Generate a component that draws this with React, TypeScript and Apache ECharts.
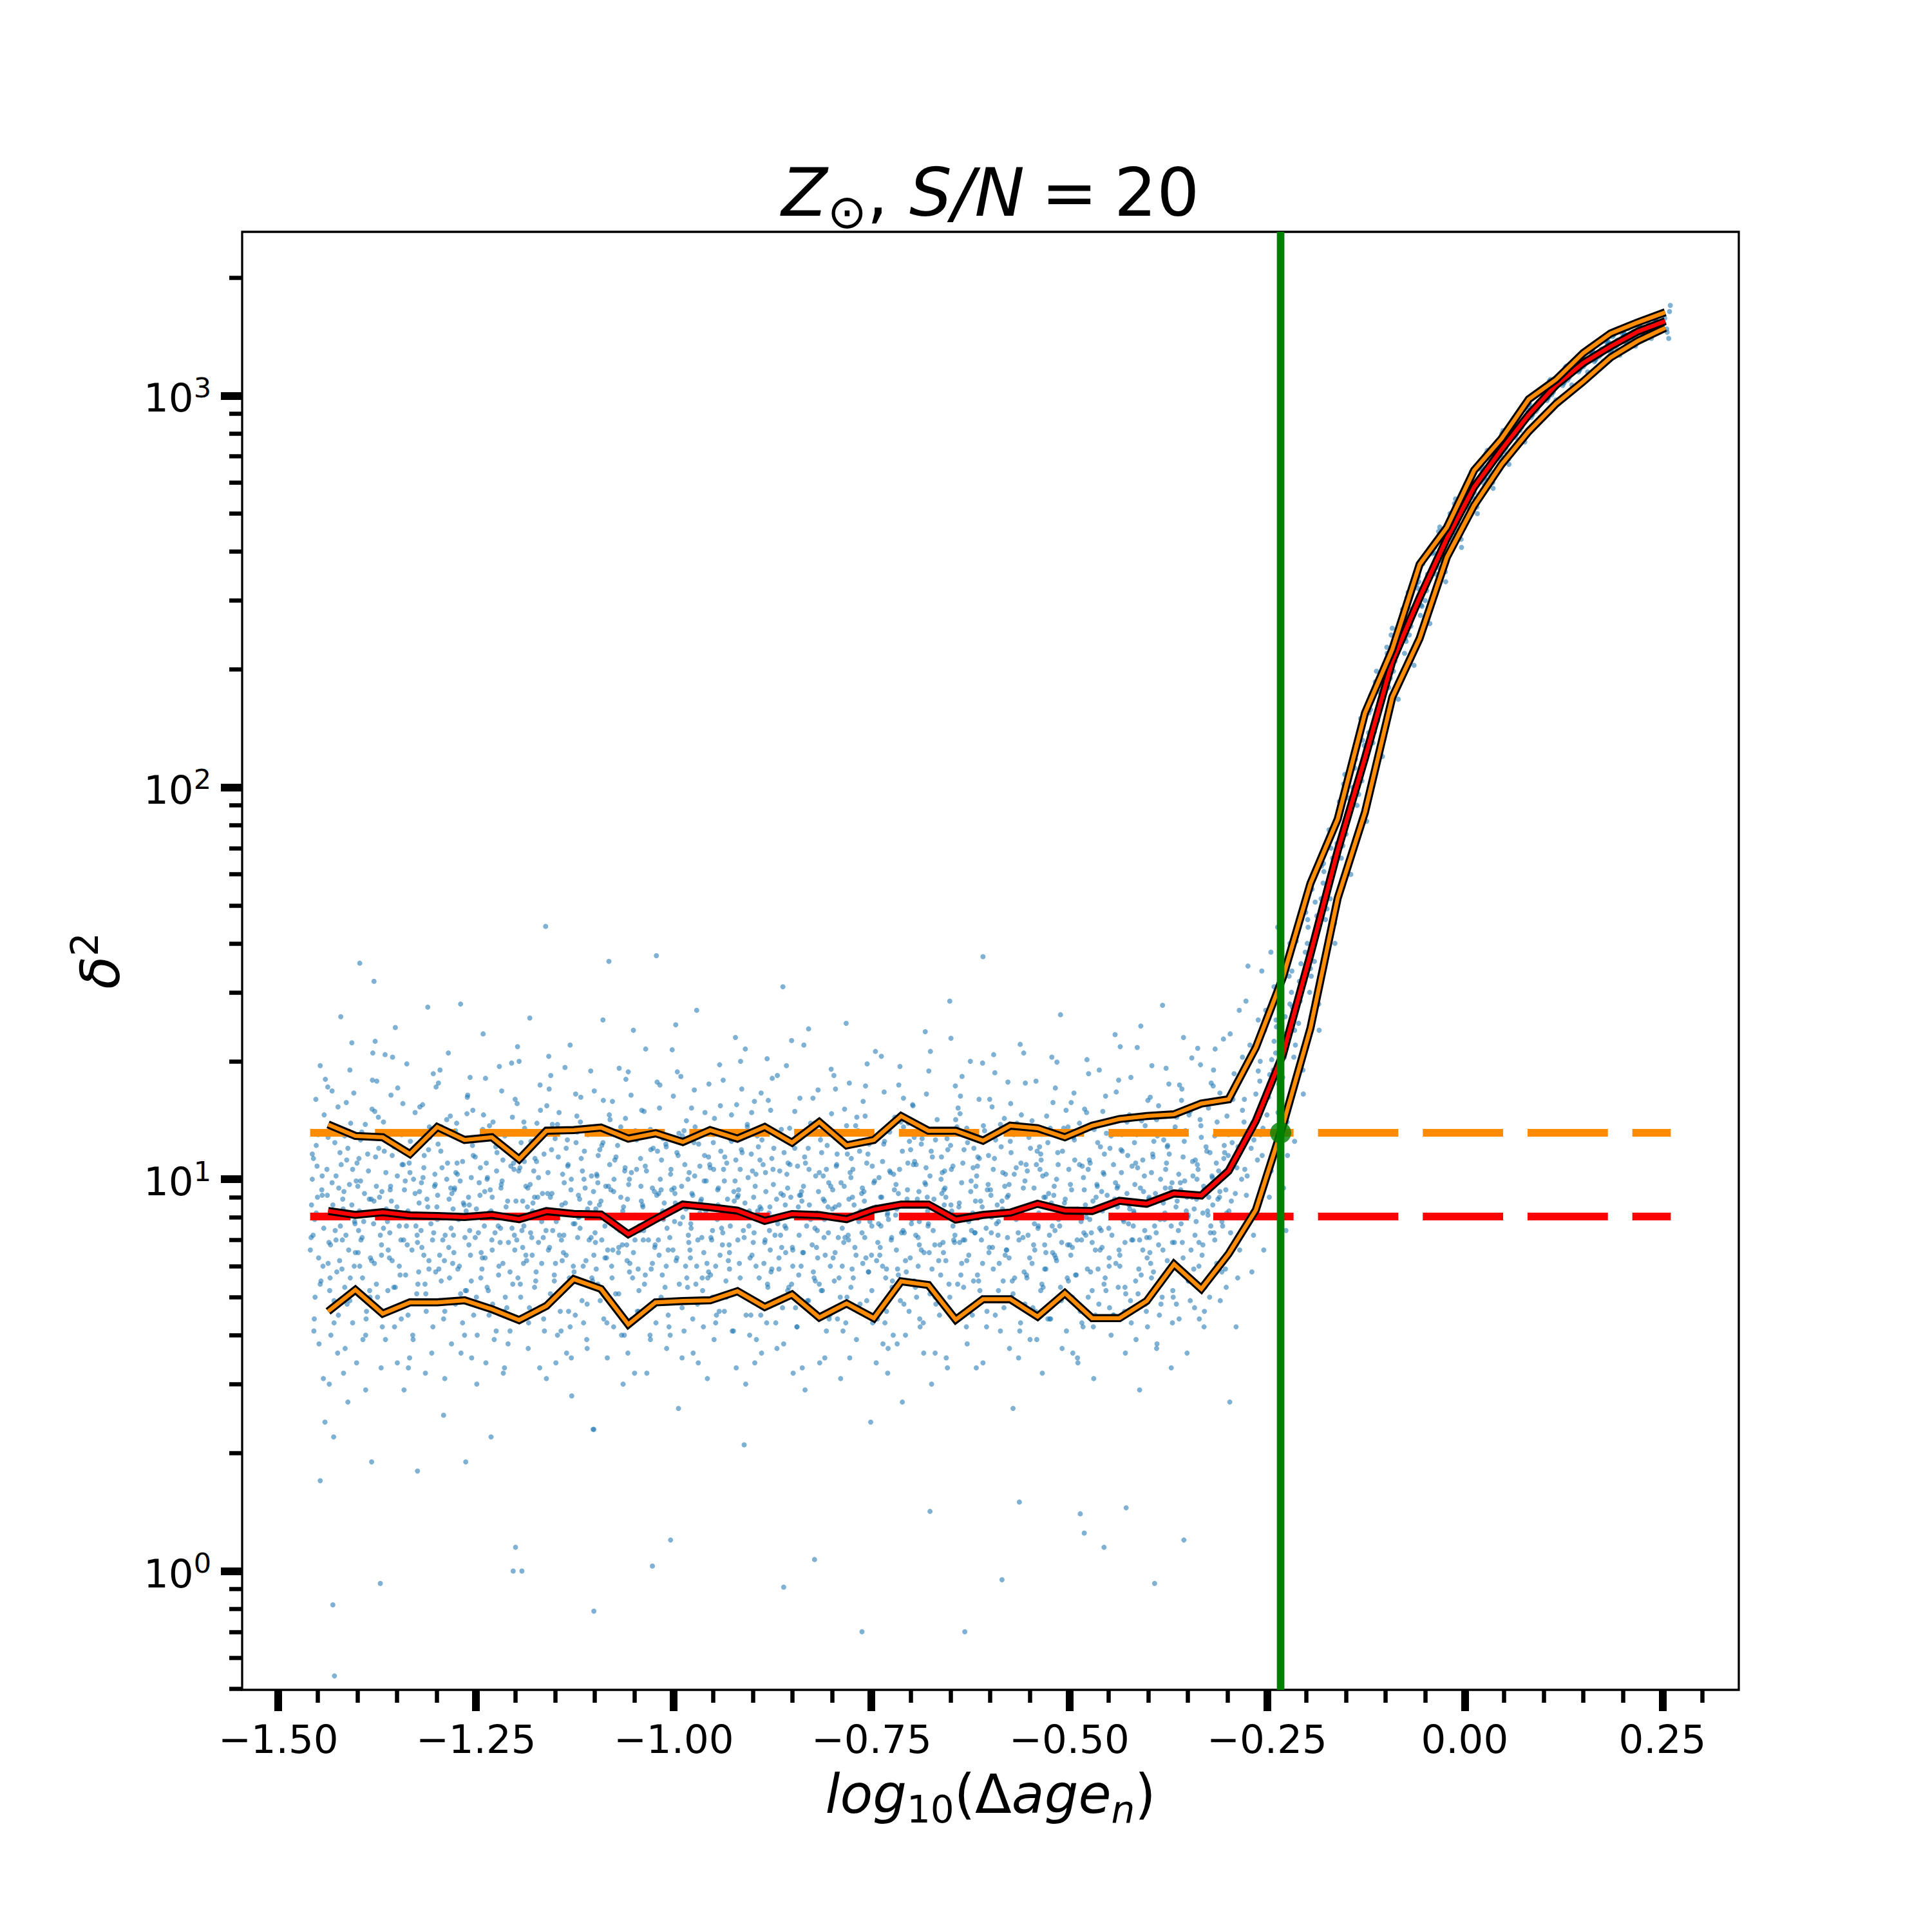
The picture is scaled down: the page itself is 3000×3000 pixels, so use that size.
import React, { useEffect, useRef } from 'react';
import * as echarts from 'echarts';

// ---------- axes ----------
const X_MIN = -1.5457;
const X_MAX = 0.3466;
const Y_MIN = 0.4975;
const Y_MAX = 2619;
const X_MAJOR = [-1.5, -1.25, -1.0, -0.75, -0.5, -0.25, 0.0, 0.25];
const X_MINOR = [-1.45, -1.4, -1.35, -1.3, -1.2, -1.15, -1.1, -1.05, -0.95, -0.9, -0.85, -0.8, -0.7, -0.65, -0.6, -0.55, -0.45, -0.4, -0.35, -0.3, -0.2, -0.15, -0.1, -0.05, 0.05, 0.1, 0.15, 0.2, 0.3];
const Y_MAJOR = [1, 10, 100, 1000];
const Y_MINOR = [0.5, 0.6, 0.7, 0.8, 0.9, 2, 3, 4, 5, 6, 7, 8, 9, 20, 30, 40, 50, 60, 70, 80, 90, 200, 300, 400, 500, 600, 700, 800, 900, 2000];

// ---------- binned statistics ----------
const BIN_X = [-1.437, -1.4025, -1.368, -1.3335, -1.299, -1.2645, -1.23, -1.1955, -1.161, -1.1265, -1.092, -1.0575, -1.023, -0.9885, -0.954, -0.9195, -0.885, -0.8505, -0.816, -0.7815, -0.747, -0.7125, -0.678, -0.6435, -0.609, -0.5745, -0.54, -0.5055, -0.471, -0.4365, -0.402, -0.3675, -0.333, -0.2985, -0.264, -0.2295, -0.195, -0.1605, -0.126, -0.0915, -0.057, -0.0225, 0.012, 0.0465, 0.081, 0.1155, 0.15, 0.1845, 0.219, 0.2535];
const MEDIAN = [8.3, 8.11, 8.24, 8.09, 8.06, 8.01, 8.11, 7.91, 8.29, 8.16, 8.13, 7.24, 7.91, 8.62, 8.48, 8.32, 7.83, 8.15, 8.1, 7.91, 8.37, 8.62, 8.62, 7.89, 8.11, 8.22, 8.66, 8.32, 8.3, 8.81, 8.66, 9.2, 9.09, 10.5, 14.1, 20.9, 37.5, 69, 119, 210, 305, 432, 585, 728, 894, 1064, 1212, 1336, 1458, 1549];
const P_UPPER = [13.8, 12.9, 12.8, 11.6, 13.6, 12.6, 12.8, 11.25, 13.3, 13.35, 13.55, 12.7, 13.1, 12.45, 13.35, 12.7, 13.6, 12.4, 14.0, 12.2, 12.6, 14.5, 13.3, 13.3, 12.55, 13.7, 13.5, 12.8, 13.7, 14.25, 14.5, 14.65, 15.6, 16.0, 21.7, 32.9, 56.9, 83.1, 155, 225, 371, 461, 645, 776, 979, 1099, 1285, 1442, 1539, 1632];
const P_LOWER = [4.6, 5.22, 4.54, 4.85, 4.85, 4.91, 4.66, 4.37, 4.75, 5.56, 5.25, 4.26, 4.85, 4.89, 4.91, 5.18, 4.72, 5.08, 4.44, 4.82, 4.42, 5.49, 5.37, 4.38, 4.94, 4.94, 4.46, 5.12, 4.42, 4.42, 4.89, 6.07, 5.25, 6.45, 8.35, 13.8, 24.3, 52.2, 86.5, 170, 240, 387, 525, 667, 811, 954, 1087, 1252, 1380, 1489];

// reference levels
const MEDIAN_REF = 8.03;
const UPPER_REF = 13.14;
const REF_X_START = -1.4597;
const REF_X_END = 0.2606;
const THRESHOLD_X = -0.2327;

// ---------- scatter ----------
const SCATTER_FLAT_A: number[][] = [
  [-1.458,8.6],[-1.455,4.1],[-1.452,12.2],[-1.449,6.3],[-1.447,19.5],[-1.445,9.4],[-1.443,3.1],[-1.456,7.2],[-1.451,10.8],[-1.446,5.5],[-1.442,14.6],[-1.454,7.9],[-1.441,2.4],
  [-1.438,9.1],[-1.435,5.2],[-1.432,16.8],[-1.428,7.4],[-1.425,3.6],[-1.422,11.7],[-1.437,6.1],[-1.433,13.4],[-1.429,8.0],[-1.424,4.5],[-1.421,26.0],[-1.427,10.2],[-1.434,6.8],
  [-1.419,7.0],[-1.416,12.9],[-1.413,4.8],[-1.41,9.7],[-1.407,22.3],[-1.404,6.0],[-1.401,3.4],[-1.418,8.4],[-1.414,15.7],[-1.409,5.6],[-1.406,10.6],[-1.403,7.7],[-1.412,2.7],
  [-1.399,6.5],[-1.396,9.9],[-1.393,3.9],[-1.39,13.8],[-1.387,8.2],[-1.384,5.0],[-1.381,17.9],[-1.398,11.3],[-1.394,7.1],[-1.389,4.4],[-1.385,8.9],[-1.382,6.2],[-1.397,35.6],
  [-1.379,8.8],[-1.376,5.4],[-1.373,12.0],[-1.37,3.3],[-1.367,7.5],[-1.364,10.4],[-1.361,6.6],[-1.378,14.9],[-1.374,4.7],[-1.369,9.3],[-1.365,20.8],[-1.362,7.8],[-1.379,32.0],
  [-1.359,7.3],[-1.356,11.5],[-1.353,4.2],[-1.35,8.5],[-1.347,6.0],[-1.344,13.0],[-1.341,2.9],[-1.358,9.6],[-1.354,5.3],[-1.349,17.1],[-1.345,7.0],[-1.342,10.9],[-1.352,24.4],
  [-1.339,5.7],[-1.336,8.3],[-1.333,12.5],[-1.33,4.0],[-1.327,9.2],[-1.324,6.9],[-1.321,15.3],[-1.338,7.6],[-1.334,3.5],[-1.329,10.0],[-1.325,5.1],[-1.322,8.7],
  [-1.319,9.8],[-1.316,6.4],[-1.313,4.6],[-1.31,11.9],[-1.307,7.7],[-1.304,18.6],[-1.301,5.8],[-1.318,8.1],[-1.314,3.2],[-1.309,13.6],[-1.305,7.0],[-1.302,10.3],[-1.311,27.5],
  [-1.299,7.9],[-1.296,4.9],[-1.293,10.7],[-1.29,6.2],[-1.287,14.2],[-1.284,8.9],[-1.281,3.8],[-1.298,12.3],[-1.294,5.5],[-1.289,7.2],[-1.285,21.0],[-1.282,9.5],[-1.291,2.5],
  [-1.279,8.4],[-1.276,13.3],[-1.273,5.9],[-1.27,9.9],[-1.267,4.3],[-1.264,7.1],[-1.261,16.2],[-1.278,6.5],[-1.274,11.0],[-1.269,3.6],[-1.265,8.6],[-1.262,5.2],
  [-1.259,6.8],[-1.256,10.1],[-1.253,4.5],[-1.25,8.0],[-1.247,12.8],[-1.244,5.6],[-1.241,23.5],[-1.258,7.4],[-1.254,15.0],[-1.249,3.0],[-1.245,9.1],[-1.242,6.3],[-1.251,11.4],
  [-1.239,9.3],[-1.236,5.3],[-1.233,13.7],[-1.23,7.0],[-1.227,3.9],[-1.224,10.5],[-1.221,6.0],[-1.238,18.1],[-1.234,8.2],[-1.229,4.8],[-1.225,12.1],[-1.222,7.6],[-1.231,2.2],
  [-1.219,7.5],[-1.216,11.2],[-1.213,5.0],[-1.21,8.8],[-1.207,4.1],[-1.204,14.4],[-1.201,6.6],[-1.218,9.7],[-1.214,3.3],[-1.209,6.9],[-1.205,19.8],[-1.202,10.6],
  [-1.199,8.1],[-1.196,4.4],[-1.193,12.4],[-1.19,6.1],[-1.187,9.6],[-1.184,3.7],[-1.181,7.3],[-1.198,15.6],[-1.194,5.4],[-1.189,11.1],[-1.185,8.5],[-1.182,25.8],[-1.191,6.7],
  [-1.179,6.4],[-1.176,9.0],[-1.173,13.9],[-1.17,4.7],[-1.167,7.8],[-1.164,11.6],[-1.161,3.1],[-1.178,8.7],[-1.174,5.8],[-1.169,17.4],[-1.165,7.1],[-1.162,44.2],[-1.171,10.1],
  [-1.159,10.4],[-1.156,5.1],[-1.153,7.4],[-1.15,12.7],[-1.147,4.0],[-1.144,8.3],[-1.141,6.2],[-1.158,20.6],[-1.154,9.2],[-1.149,3.4],[-1.145,14.8],[-1.142,7.0],[-1.151,5.7],
  [-1.139,7.2],[-1.136,12.0],[-1.133,4.6],[-1.13,9.4],[-1.127,6.0],[-1.124,16.5],[-1.121,8.0],[-1.138,5.3],[-1.134,10.8],[-1.129,2.8],[-1.125,7.7],[-1.122,13.2],[-1.131,22.0],
  [-1.119,8.9],[-1.116,5.5],[-1.113,11.8],[-1.11,3.9],[-1.107,7.0],[-1.104,10.2],[-1.101,6.4],[-1.118,14.0],[-1.114,4.3],[-1.109,8.4],[-1.105,18.9],[-1.102,2.3],
  [-1.099,6.9],[-1.096,9.8],[-1.093,4.9],[-1.09,13.5],[-1.087,7.6],[-1.084,3.5],[-1.081,10.9],[-1.098,5.9],[-1.094,8.6],[-1.089,15.9],[-1.085,6.3],[-1.082,36.0],[-1.091,12.2],
  [-1.079,7.7],[-1.076,4.2],[-1.073,11.4],[-1.07,6.5],[-1.067,9.0],[-1.064,3.0],[-1.061,14.3],[-1.078,5.6],[-1.074,8.1],[-1.069,19.2],[-1.065,6.8],[-1.062,10.5],[-1.071,4.7],
  [-1.059,6.2],[-1.056,10.0],[-1.053,4.4],[-1.05,7.3],[-1.047,12.6],[-1.044,5.2],[-1.041,8.8],[-1.058,3.6],[-1.054,16.4],[-1.049,7.0],[-1.045,5.9],[-1.042,11.3],[-1.051,24.0],
  [-1.039,8.5],[-1.036,5.7],[-1.033,13.1],[-1.03,4.0],[-1.027,9.5],[-1.024,6.7],[-1.021,17.7],[-1.038,7.4],[-1.034,3.2],[-1.029,11.9],[-1.025,8.0],[-1.022,37.2],
  [-1.019,9.2],[-1.016,5.0],[-1.013,7.9],[-1.01,12.3],[-1.007,4.5],[-1.004,10.3],[-1.001,6.6],[-1.018,15.2],[-1.014,8.3],[-1.009,3.7],[-1.005,7.1],[-1.002,21.4],
  [-0.999,7.8],[-0.996,11.7],[-0.993,5.4],[-0.99,9.6],[-0.987,4.1],[-0.984,14.1],[-0.981,6.9],[-0.998,8.7],[-0.994,2.6],[-0.989,12.9],[-0.985,6.0],[-0.982,10.0],[-0.991,18.3],
  [-0.979,6.3],[-0.976,9.1],[-0.973,13.6],[-0.97,4.8],[-0.967,8.2],[-0.964,5.6],[-0.961,11.5],[-0.978,7.5],[-0.974,16.9],[-0.969,3.4],[-0.965,8.9],[-0.962,6.5],[-0.971,27.0],
  [-0.959,9.9],[-0.956,5.8],[-0.953,7.1],[-0.95,12.4],[-0.947,4.3],[-0.944,8.6],[-0.941,15.4],[-0.958,6.1],[-0.954,10.7],[-0.949,3.9],[-0.945,7.9],[-0.942,19.6],[-0.951,5.0],
  [-0.939,8.0],[-0.936,4.6],[-0.933,11.0],[-0.93,6.8],[-0.927,14.6],[-0.924,9.3],[-0.921,3.3],[-0.938,7.3],[-0.934,5.5],[-0.929,12.7],[-0.925,8.4],[-0.922,23.0],[-0.931,6.2],
  [-0.919,7.0],[-0.916,10.6],[-0.913,5.1],[-0.91,8.7],[-0.907,13.8],[-0.904,4.0],[-0.901,6.4],[-0.918,9.4],[-0.914,17.0],[-0.909,3.0],[-0.905,7.6],[-0.902,11.6],[-0.911,2.1],
  [-0.899,9.0],[-0.896,6.0],[-0.893,12.1],[-0.89,4.5],[-0.887,7.8],[-0.884,10.4],[-0.881,5.3],[-0.898,15.8],[-0.894,8.3],[-0.889,3.6],[-0.885,6.9],[-0.882,20.3],[-0.891,11.2],
  [-0.879,7.4],[-0.876,11.3],[-0.873,4.9],[-0.87,8.9],[-0.867,5.9],[-0.864,13.4],[-0.861,3.8],[-0.878,6.6],[-0.874,9.7],[-0.869,18.4],[-0.865,7.2],[-0.862,31.0],
  [-0.859,8.6],[-0.856,5.2],[-0.853,10.9],[-0.85,6.7],[-0.847,14.9],[-0.844,4.2],[-0.841,9.1],[-0.858,7.5],[-0.854,12.6],[-0.849,3.2],[-0.845,8.0],[-0.842,5.7],[-0.851,22.6],
  [-0.839,6.0],[-0.836,9.6],[-0.833,4.7],[-0.83,12.0],[-0.827,7.9],[-0.824,16.1],[-0.821,5.5],[-0.838,8.8],[-0.834,2.9],[-0.829,10.6],[-0.825,6.8],[-0.822,13.9],
  [-0.819,8.2],[-0.816,5.4],[-0.813,11.7],[-0.81,7.1],[-0.807,4.1],[-0.804,9.8],[-0.801,19.1],[-0.818,6.3],[-0.814,13.0],[-0.809,3.5],[-0.805,8.5],[-0.802,6.0],[-0.811,10.2],
  [-0.799,9.4],[-0.796,6.5],[-0.793,4.4],[-0.79,12.9],[-0.787,7.5],[-0.784,15.1],[-0.781,5.0],[-0.798,8.1],[-0.794,10.9],[-0.789,3.1],[-0.785,6.9],[-0.782,25.0],[-0.791,8.6],
  [-0.779,7.0],[-0.776,10.1],[-0.773,5.6],[-0.77,13.7],[-0.767,4.6],[-0.764,8.3],[-0.761,6.1],[-0.778,17.6],[-0.774,9.0],[-0.769,3.9],[-0.765,11.8],[-0.762,7.3],
  [-0.759,8.8],[-0.756,4.9],[-0.753,12.3],[-0.75,6.4],[-0.747,9.8],[-0.744,3.4],[-0.741,7.7],[-0.758,14.5],[-0.754,5.8],[-0.749,10.8],[-0.745,21.2],[-0.742,6.9],[-0.751,2.4],
  [-0.739,6.7],[-0.736,11.1],[-0.733,4.3],[-0.73,8.1],[-0.727,13.2],[-0.724,5.3],[-0.721,9.4],[-0.738,7.6],[-0.734,16.7],[-0.729,3.7],[-0.725,7.0],[-0.722,10.3],[-0.731,5.9],
  [-0.719,9.7],[-0.716,5.7],[-0.713,14.0],[-0.71,7.4],[-0.707,4.0],[-0.704,11.0],[-0.701,6.3],[-0.718,8.4],[-0.714,19.4],[-0.709,4.8],[-0.705,8.9],[-0.702,12.5],[-0.711,2.7],
  [-0.699,7.9],[-0.696,12.8],[-0.693,5.0],[-0.69,9.3],[-0.687,6.6],[-0.684,3.6],[-0.681,10.7],[-0.698,15.5],[-0.694,7.2],[-0.689,4.4],[-0.685,8.7],[-0.682,23.8],[-0.691,6.0],
  [-0.679,8.3],[-0.676,5.1],[-0.673,11.4],[-0.67,6.8],[-0.667,14.2],[-0.664,4.5],[-0.661,9.2],[-0.678,7.7],[-0.674,3.0],[-0.669,12.6],[-0.665,6.2],[-0.662,10.0],
  [-0.659,6.5],[-0.656,9.0],[-0.653,4.7],[-0.65,12.2],[-0.647,7.6],[-0.644,17.3],[-0.641,5.4],[-0.658,8.6],[-0.654,3.3],[-0.649,10.6],[-0.645,6.9],[-0.642,13.6],[-0.651,28.5],
  [-0.639,8.7],[-0.636,6.1],[-0.633,11.9],[-0.63,4.2],[-0.627,7.8],[-0.624,9.9],[-0.621,5.5],[-0.638,14.7],[-0.634,7.0],[-0.629,3.8],[-0.625,20.0],[-0.622,8.2],
  [-0.619,7.3],[-0.616,10.8],[-0.613,5.2],[-0.61,8.5],[-0.607,13.3],[-0.604,4.6],[-0.601,6.7],[-0.618,9.6],[-0.614,16.0],[-0.609,3.4],[-0.605,7.5],[-0.602,11.5],[-0.609,37.0],
  [-0.599,9.1],[-0.596,5.9],[-0.593,12.6],[-0.59,7.2],[-0.587,4.1],[-0.584,10.4],[-0.581,6.4],[-0.598,8.0],[-0.594,18.7],[-0.589,4.9],[-0.585,8.8],[-0.582,14.3],
  [-0.579,6.6],[-0.576,9.7],[-0.573,5.0],[-0.57,13.0],[-0.567,7.9],[-0.564,3.5],[-0.561,11.0],[-0.578,7.1],[-0.574,15.6],[-0.569,5.6],[-0.565,8.4],[-0.562,22.1],[-0.571,2.6],
  [-0.559,8.4],[-0.556,4.8],[-0.553,10.5],[-0.55,6.3],[-0.547,14.1],[-0.544,7.7],[-0.541,3.9],[-0.558,9.5],[-0.554,5.7],[-0.549,12.0],[-0.545,6.8],[-0.542,17.8],
  [-0.539,7.6],[-0.536,11.6],[-0.533,5.3],[-0.53,9.0],[-0.527,4.4],[-0.524,13.5],[-0.521,6.5],[-0.538,8.6],[-0.534,3.2],[-0.529,10.3],[-0.525,7.2],[-0.522,20.5],[-0.531,5.9],
  [-0.519,9.6],[-0.516,6.2],[-0.513,12.9],[-0.51,4.9],[-0.507,8.2],[-0.504,15.0],[-0.501,5.5],[-0.518,7.4],[-0.514,10.9],[-0.509,3.7],[-0.505,8.9],[-0.502,6.8],[-0.511,26.3],
  [-0.499,8.0],[-0.496,5.0],[-0.493,11.2],[-0.49,7.0],[-0.487,13.9],[-0.484,4.3],[-0.481,9.4],[-0.498,6.4],[-0.494,16.6],[-0.489,3.4],[-0.485,7.8],[-0.482,10.1],
  [-0.479,7.2],[-0.476,10.6],[-0.473,5.8],[-0.47,8.8],[-0.467,4.5],[-0.464,12.4],[-0.461,6.6],[-0.478,14.8],[-0.474,7.9],[-0.469,3.1],[-0.465,9.7],[-0.462,19.0],[-0.471,5.2],
  [-0.459,9.3],[-0.456,5.4],[-0.453,13.1],[-0.45,7.5],[-0.447,4.0],[-0.444,10.9],[-0.441,6.1],[-0.458,8.3],[-0.454,16.3],[-0.449,4.7],[-0.445,8.6],[-0.442,23.4],
  [-0.439,8.5],[-0.436,6.0],[-0.433,11.8],[-0.43,4.6],[-0.427,9.2],[-0.424,14.6],[-0.421,7.0],[-0.438,5.3],[-0.434,10.4],[-0.429,3.6],[-0.425,7.7],[-0.422,18.2],
  [-0.419,7.6],[-0.416,11.0],[-0.413,5.1],[-0.41,9.5],[-0.407,6.6],[-0.404,13.7],[-0.401,4.2],[-0.418,8.2],[-0.414,21.7],[-0.409,5.7],[-0.405,10.2],[-0.402,7.1],[-0.411,2.9],
  [-0.399,9.0],[-0.396,5.6],[-0.393,12.5],[-0.39,7.3],[-0.387,15.4],[-0.384,4.8],[-0.381,8.7],[-0.398,6.5],[-0.394,11.4],[-0.389,3.8],[-0.385,7.9],[-0.382,27.8],
  [-0.379,8.2],[-0.376,12.1],[-0.373,5.9],[-0.37,9.8],[-0.367,6.9],[-0.364,14.4],[-0.361,4.4],[-0.378,10.6],[-0.374,17.5],[-0.369,5.2],[-0.365,8.5],[-0.362,7.4],[-0.371,3.3],
  [-0.359,9.4],[-0.356,6.3],[-0.353,13.3],[-0.35,8.0],[-0.347,4.9],[-0.344,11.1],[-0.341,7.2],[-0.358,15.9],[-0.354,9.9],[-0.349,5.5],[-0.345,20.4],[-0.342,8.4],[-0.351,3.6],
  [-0.339,8.9],[-0.336,6.0],[-0.333,12.8],[-0.33,9.6],[-0.327,5.4],[-0.324,15.2],[-0.321,7.6],[-0.338,10.9],[-0.334,19.6],[-0.329,4.6],[-0.325,8.3],[-0.322,11.7],[-0.331,6.8],
  [-0.319,10.1],[-0.316,7.0],[-0.313,14.0],[-0.31,9.0],[-0.307,5.8],[-0.304,12.2],[-0.301,8.2],[-0.318,17.3],[-0.314,11.0],[-0.309,4.9],[-0.305,22.8],[-0.302,9.4]
];

const SCATTER_FLAT_B: number[][] = [
  [-1.4585,7.1],[-1.457,11.6],[-1.4535,5.0],[-1.4505,9.0],[-1.4485,3.8],[-1.446,13.1],[-1.4435,6.0],[-1.4415,8.1],[-1.4525,16.0],[-1.4445,10.2],
  [-1.4385,10.6],[-1.436,6.9],[-1.4335,4.0],[-1.431,8.6],[-1.4285,12.4],[-1.426,5.8],[-1.4235,9.5],[-1.4215,7.6],[-1.4375,17.2],[-1.4295,4.9],
  [-1.4185,8.9],[-1.416,5.3],[-1.4135,11.2],[-1.411,6.6],[-1.4085,13.9],[-1.406,4.3],[-1.4035,7.8],[-1.4015,9.9],[-1.4175,3.2],[-1.4095,19.0],
  [-1.3985,7.4],[-1.396,12.6],[-1.3935,5.6],[-1.391,9.2],[-1.3885,4.6],[-1.386,10.5],[-1.3835,6.3],[-1.3815,15.1],[-1.3975,8.3],[-1.3895,2.9],
  [-1.3785,6.1],[-1.376,9.6],[-1.3735,14.4],[-1.371,7.2],[-1.3685,4.2],[-1.366,11.8],[-1.3635,8.4],[-1.3615,5.2],[-1.3775,22.5],[-1.3695,6.8],
  [-1.3585,9.4],[-1.356,6.2],[-1.3535,12.1],[-1.351,4.7],[-1.3485,8.0],[-1.346,5.7],[-1.3435,10.9],[-1.3415,7.0],[-1.3575,16.4],[-1.3495,3.4],
  [-1.3385,8.2],[-1.336,4.5],[-1.3335,10.4],[-1.331,6.6],[-1.3285,13.2],[-1.326,7.6],[-1.3235,5.4],[-1.3215,9.3],[-1.3375,19.7],[-1.3295,3.9],
  [-1.3185,6.7],[-1.316,10.7],[-1.3135,5.1],[-1.311,8.5],[-1.3085,12.8],[-1.306,3.6],[-1.3035,7.3],[-1.3015,9.7],[-1.3175,15.5],[-1.3095,5.9],
  [-1.2985,9.1],[-1.296,6.4],[-1.2935,13.6],[-1.291,4.4],[-1.2885,8.1],[-1.286,11.0],[-1.2835,5.6],[-1.2815,7.5],[-1.2975,17.6],[-1.2895,3.1],
  [-1.2785,7.2],[-1.276,4.8],[-1.2735,10.3],[-1.271,6.0],[-1.2685,12.6],[-1.266,8.7],[-1.2635,5.2],[-1.2615,14.7],[-1.2775,9.4],[-1.2695,28.0],
  [-1.2585,8.6],[-1.256,5.5],[-1.2535,11.5],[-1.251,7.1],[-1.2485,4.0],[-1.246,9.8],[-1.2435,6.5],[-1.2415,13.4],[-1.2575,18.2],[-1.2495,5.0],
  [-1.2385,6.3],[-1.236,10.0],[-1.2335,4.5],[-1.231,8.3],[-1.2285,14.0],[-1.226,7.3],[-1.2235,11.7],[-1.2215,5.7],[-1.2375,3.4],[-1.2295,9.0],
  [-1.2185,9.5],[-1.216,6.1],[-1.2135,12.9],[-1.211,4.7],[-1.2085,8.0],[-1.206,10.8],[-1.2035,5.4],[-1.2015,7.2],[-1.2175,16.8],[-1.2095,3.8],
  [-1.1985,7.0],[-1.196,10.5],[-1.1935,5.0],[-1.191,8.8],[-1.1885,13.5],[-1.186,6.2],[-1.1835,4.3],[-1.1815,9.7],[-1.1975,21.8],[-1.1895,7.6],
  [-1.1785,8.3],[-1.176,5.3],[-1.1735,11.1],[-1.171,6.9],[-1.1685,15.0],[-1.166,9.2],[-1.1635,4.1],[-1.1615,7.4],[-1.1775,12.5],[-1.1695,3.3],
  [-1.1585,6.6],[-1.156,9.0],[-1.1535,13.8],[-1.151,5.5],[-1.1485,7.8],[-1.146,11.4],[-1.1435,4.6],[-1.1415,8.6],[-1.1575,17.0],[-1.1495,6.1],
  [-1.1385,9.8],[-1.136,6.4],[-1.1335,10.9],[-1.131,4.2],[-1.1285,8.2],[-1.126,5.8],[-1.1235,12.4],[-1.1215,7.1],[-1.1375,19.3],[-1.1295,3.5],
  [-1.1185,7.5],[-1.116,4.9],[-1.1135,10.0],[-1.111,6.2],[-1.1085,13.0],[-1.106,8.7],[-1.1035,5.6],[-1.1015,9.3],[-1.1175,16.2],[-1.1095,3.7],
  [-1.0985,8.4],[-1.096,5.4],[-1.0935,11.9],[-1.091,7.0],[-1.0885,4.4],[-1.086,9.6],[-1.0835,6.6],[-1.0815,14.6],[-1.0975,10.3],[-1.0895,25.5],
  [-1.0785,6.0],[-1.076,9.3],[-1.0735,5.1],[-1.071,12.2],[-1.0685,7.4],[-1.066,4.0],[-1.0635,8.5],[-1.0615,10.7],[-1.0775,15.8],[-1.0695,6.7],
  [-1.0585,8.9],[-1.056,5.8],[-1.0535,10.4],[-1.051,6.5],[-1.0485,13.3],[-1.046,4.6],[-1.0435,7.6],[-1.0415,9.6],[-1.0575,18.8],[-1.0495,3.2],
  [-1.0385,7.0],[-1.036,10.8],[-1.0335,4.7],[-1.031,8.1],[-1.0285,5.9],[-1.026,12.0],[-1.0235,6.8],[-1.0215,9.1],[-1.0375,14.9],[-1.0295,3.9],
  [-1.0185,6.4],[-1.016,9.4],[-1.0135,12.7],[-1.011,5.3],[-1.0085,7.5],[-1.006,4.2],[-1.0035,10.6],[-1.0015,8.4],[-1.0175,17.4],[-1.0095,6.0],
  [-0.9985,9.2],[-0.996,6.3],[-0.9935,13.1],[-0.991,4.9],[-0.9885,8.0],[-0.986,10.9],[-0.9835,5.6],[-0.9815,7.2],[-0.9975,24.8],[-0.9895,3.5],
  [-0.9785,7.7],[-0.976,4.4],[-0.9735,10.2],[-0.971,6.0],[-0.9685,12.3],[-0.966,8.8],[-0.9635,5.2],[-0.9615,9.9],[-0.9775,15.2],[-0.9695,7.0],
  [-0.9585,8.1],[-0.956,11.4],[-0.9535,5.7],[-0.951,7.4],[-0.9485,14.3],[-0.946,4.5],[-0.9435,9.5],[-0.9415,6.4],[-0.9575,3.1],[-0.9495,10.6],
  [-0.9385,6.8],[-0.936,9.9],[-0.9335,5.0],[-0.931,12.9],[-0.9285,7.6],[-0.926,4.1],[-0.9235,8.8],[-0.9215,11.2],[-0.9375,17.9],[-0.9295,5.9],
  [-0.9185,9.1],[-0.916,5.6],[-0.9135,11.7],[-0.911,7.1],[-0.9085,4.5],[-0.906,10.1],[-0.9035,6.3],[-0.9015,14.8],[-0.9175,8.2],[-0.9095,21.5],
  [-0.8985,7.3],[-0.896,10.3],[-0.8935,4.8],[-0.891,8.5],[-0.8885,12.6],[-0.886,6.1],[-0.8835,9.3],[-0.8815,5.4],[-0.8975,3.4],[-0.8895,16.6],
  [-0.8785,8.5],[-0.876,5.9],[-0.8735,12.0],[-0.871,4.3],[-0.8685,7.7],[-0.866,10.5],[-0.8635,6.7],[-0.8615,9.1],[-0.8775,15.0],[-0.8695,3.7],
  [-0.8585,6.5],[-0.856,9.5],[-0.8535,13.5],[-0.851,5.4],[-0.8485,8.2],[-0.846,4.7],[-0.8435,10.8],[-0.8415,7.2],[-0.8575,19.5],[-0.8495,6.0],
  [-0.8385,9.3],[-0.836,6.5],[-0.8335,11.0],[-0.831,4.9],[-0.8285,8.6],[-0.826,13.1],[-0.8235,5.8],[-0.8215,7.5],[-0.8375,3.3],[-0.8295,24.2],
  [-0.8185,7.4],[-0.816,10.4],[-0.8135,5.2],[-0.811,8.9],[-0.8085,6.4],[-0.806,12.2],[-0.8035,4.4],[-0.8015,9.6],[-0.8175,16.9],[-0.8095,7.9],
  [-0.7985,6.3],[-0.796,8.5],[-0.7935,11.6],[-0.791,5.6],[-0.7885,9.8],[-0.786,4.1],[-0.7835,7.1],[-0.7815,13.7],[-0.7975,18.4],[-0.7895,5.0],
  [-0.7785,8.9],[-0.776,5.3],[-0.7735,10.6],[-0.771,6.7],[-0.7685,14.4],[-0.766,7.8],[-0.7635,4.6],[-0.7615,9.5],[-0.7775,3.5],[-0.7695,12.3],
  [-0.7585,7.1],[-0.756,11.0],[-0.7535,5.8],[-0.751,8.3],[-0.7485,4.3],[-0.746,9.9],[-0.7435,6.2],[-0.7415,13.0],[-0.7575,17.3],[-0.7495,7.6],
  [-0.7385,9.0],[-0.736,6.0],[-0.7335,12.5],[-0.731,4.6],[-0.7285,7.9],[-0.726,10.4],[-0.7235,5.5],[-0.7215,8.6],[-0.7375,20.6],[-0.7295,3.2],
  [-0.7185,6.6],[-0.716,9.2],[-0.7135,4.9],[-0.711,11.8],[-0.7085,7.3],[-0.706,5.8],[-0.7035,13.9],[-0.7015,8.1],[-0.7175,3.8],[-0.7095,16.1],
  [-0.6985,8.6],[-0.696,5.5],[-0.6935,10.9],[-0.691,7.1],[-0.6885,4.2],[-0.686,12.7],[-0.6835,6.5],[-0.6815,9.7],[-0.6975,15.4],[-0.6895,7.8],
  [-0.6785,7.6],[-0.676,10.2],[-0.6735,5.9],[-0.671,8.9],[-0.6685,4.8],[-0.666,13.3],[-0.6635,6.8],[-0.6615,11.4],[-0.6775,18.9],[-0.6695,3.6],
  [-0.6585,9.4],[-0.656,6.2],[-0.6535,11.9],[-0.651,5.0],[-0.6485,8.3],[-0.646,7.0],[-0.6435,14.2],[-0.6415,4.4],[-0.6575,10.5],[-0.6495,22.9],
  [-0.6385,6.9],[-0.636,9.8],[-0.6335,5.3],[-0.631,8.1],[-0.6285,12.4],[-0.626,4.6],[-0.6235,7.4],[-0.6215,10.7],[-0.6375,16.3],[-0.6295,6.2],
  [-0.6185,8.8],[-0.616,5.7],[-0.6135,11.3],[-0.611,7.0],[-0.6085,13.7],[-0.606,4.9],[-0.6035,9.4],[-0.6015,6.5],[-0.6175,3.3],[-0.6095,19.8],
  [-0.5985,7.3],[-0.596,10.6],[-0.5935,4.5],[-0.591,8.6],[-0.5885,6.1],[-0.586,12.1],[-0.5835,5.5],[-0.5815,9.6],[-0.5975,15.3],[-0.5895,7.8],
  [-0.5785,9.0],[-0.576,6.3],[-0.5735,11.7],[-0.571,5.1],[-0.5685,8.1],[-0.566,13.9],[-0.5635,7.0],[-0.5615,4.3],[-0.5775,17.7],[-0.5695,10.3],
  [-0.5585,7.1],[-0.556,9.9],[-0.5535,5.6],[-0.551,12.8],[-0.5485,8.5],[-0.546,4.7],[-0.5435,6.6],[-0.5415,10.9],[-0.5575,21.0],[-0.5495,3.9],
  [-0.5385,8.2],[-0.536,5.2],[-0.5335,10.2],[-0.531,6.8],[-0.5285,14.5],[-0.526,9.2],[-0.5235,4.4],[-0.5215,7.6],[-0.5375,12.1],[-0.5295,5.9],
  [-0.5185,6.4],[-0.516,10.0],[-0.5135,7.9],[-0.511,5.3],[-0.5085,11.8],[-0.506,8.7],[-0.5035,4.1],[-0.5015,13.6],[-0.5175,17.1],[-0.5095,6.9],
  [-0.4985,9.7],[-0.496,6.7],[-0.4935,12.6],[-0.491,5.7],[-0.4885,8.3],[-0.486,4.6],[-0.4835,10.8],[-0.4815,7.3],[-0.4975,15.7],[-0.4895,3.5],
  [-0.4785,8.0],[-0.476,5.0],[-0.4735,11.0],[-0.471,6.9],[-0.4685,13.4],[-0.466,9.0],[-0.4635,5.9],[-0.4615,7.5],[-0.4775,20.2],[-0.4695,4.2],
  [-0.4585,6.7],[-0.456,10.3],[-0.4535,5.2],[-0.451,8.6],[-0.4485,12.0],[-0.446,7.2],[-0.4435,4.5],[-0.4415,9.8],[-0.4575,14.9],[-0.4495,6.0],
  [-0.4385,9.6],[-0.436,6.4],[-0.4335,13.0],[-0.431,7.8],[-0.4285,5.1],[-0.426,11.5],[-0.4235,8.4],[-0.4215,4.3],[-0.4375,17.9],[-0.4295,6.9],
  [-0.4185,8.3],[-0.416,5.5],[-0.4135,10.7],[-0.411,7.0],[-0.4085,14.1],[-0.406,9.3],[-0.4035,4.8],[-0.4015,6.3],[-0.4175,12.4],[-0.4095,24.6],
  [-0.3985,7.1],[-0.396,10.4],[-0.3935,5.8],[-0.391,9.2],[-0.3885,12.9],[-0.386,4.5],[-0.3835,8.0],[-0.3815,6.6],[-0.3975,16.2],[-0.3895,3.7],
  [-0.3785,9.5],[-0.376,6.2],[-0.3735,11.6],[-0.371,7.6],[-0.3685,5.0],[-0.366,13.6],[-0.3635,8.8],[-0.3615,10.3],[-0.3775,19.2],[-0.3695,4.3],
  [-0.3585,7.7],[-0.356,11.4],[-0.3535,5.7],[-0.351,9.0],[-0.3485,14.6],[-0.346,6.6],[-0.3435,10.2],[-0.3415,4.7],[-0.3575,17.0],[-0.3495,8.1],
  [-0.3385,10.0],[-0.336,6.9],[-0.3335,13.7],[-0.331,8.2],[-0.3285,5.3],[-0.326,11.8],[-0.3235,9.0],[-0.3215,7.3],[-0.3375,21.6],[-0.3295,4.2],
  [-0.3185,8.6],[-0.316,12.9],[-0.3135,6.1],[-0.311,10.5],[-0.3085,15.8],[-0.306,7.6],[-0.3035,11.7],[-0.3015,5.3],[-0.3175,19.0],[-0.3095,9.3]
];

const SCATTER_FLAT_C: number[][] = [
  [-1.4595,6.6],[-1.457,10.0],[-1.4545,4.4],[-1.452,8.2],[-1.4495,13.0],[-1.447,5.4],[-1.4445,9.1],[-1.4425,7.5],[-1.4405,18.0],[-1.4555,11.3],
  [-1.4395,8.0],[-1.437,12.8],[-1.4345,5.6],[-1.432,9.8],[-1.4295,4.3],[-1.427,7.0],[-1.4245,15.3],[-1.4225,6.2],[-1.4205,10.9],[-1.4355,3.0],
  [-1.4195,5.9],[-1.417,9.3],[-1.4145,7.2],[-1.412,12.0],[-1.4095,4.9],[-1.407,8.6],[-1.4045,16.6],[-1.4025,6.5],[-1.4005,11.0],[-1.4155,3.7],
  [-1.3995,9.6],[-1.397,6.0],[-1.3945,13.2],[-1.392,7.8],[-1.3895,4.0],[-1.387,11.6],[-1.3845,5.2],[-1.3825,8.9],[-1.3805,21.0],[-1.3955,7.0],
  [-1.3795,7.7],[-1.377,11.4],[-1.3745,5.0],[-1.372,9.0],[-1.3695,6.4],[-1.367,14.0],[-1.3645,3.9],[-1.3625,8.2],[-1.3605,12.7],[-1.3755,17.8],
  [-1.3595,6.3],[-1.357,8.8],[-1.3545,12.4],[-1.352,5.3],[-1.3495,10.2],[-1.347,7.6],[-1.3445,4.4],[-1.3425,15.6],[-1.3405,9.4],[-1.3555,20.5],
  [-1.3395,9.9],[-1.337,6.8],[-1.3345,11.0],[-1.332,4.9],[-1.3295,8.0],[-1.327,14.8],[-1.3245,7.2],[-1.3225,5.8],[-1.3205,12.2],[-1.3355,3.3],
  [-1.3195,7.4],[-1.317,10.1],[-1.3145,5.4],[-1.312,8.9],[-1.3095,6.2],[-1.307,13.4],[-1.3045,4.2],[-1.3025,9.6],[-1.3005,17.2],[-1.3155,11.5],
  [-1.2995,8.5],[-1.297,5.9],[-1.2945,11.8],[-1.292,7.0],[-1.2895,4.6],[-1.287,10.0],[-1.2845,6.7],[-1.2825,14.5],[-1.2805,9.2],[-1.2955,19.0],
  [-1.2795,6.1],[-1.277,9.5],[-1.2745,13.9],[-1.272,7.9],[-1.2695,5.1],[-1.267,11.1],[-1.2645,4.0],[-1.2625,8.3],[-1.2605,16.4],[-1.2755,10.4],
  [-1.2595,9.0],[-1.257,6.4],[-1.2545,12.2],[-1.252,4.8],[-1.2495,8.4],[-1.247,7.3],[-1.2445,10.7],[-1.2425,5.9],[-1.2405,14.6],[-1.2555,3.5],
  [-1.2395,7.6],[-1.237,11.0],[-1.2345,5.2],[-1.232,9.4],[-1.2295,6.6],[-1.227,13.0],[-1.2245,4.1],[-1.2225,8.0],[-1.2205,19.4],[-1.2355,10.1],
  [-1.2195,6.9],[-1.217,9.9],[-1.2145,4.6],[-1.212,8.5],[-1.2095,12.0],[-1.207,5.8],[-1.2045,7.5],[-1.2025,11.0],[-1.2005,16.0],[-1.2155,3.2],
  [-1.1995,8.8],[-1.197,5.6],[-1.1945,10.7],[-1.192,7.4],[-1.1895,14.0],[-1.187,6.4],[-1.1845,9.5],[-1.1825,4.7],[-1.1805,12.5],[-1.1955,20.0],
  [-1.1795,7.1],[-1.177,10.5],[-1.1745,5.5],[-1.172,9.0],[-1.1695,12.9],[-1.167,6.1],[-1.1645,4.4],[-1.1625,8.2],[-1.1605,15.4],[-1.1755,11.3],
  [-1.1595,9.2],[-1.157,6.7],[-1.1545,11.9],[-1.152,5.0],[-1.1495,8.0],[-1.147,13.8],[-1.1445,7.2],[-1.1425,4.1],[-1.1405,10.3],[-1.1555,18.4],
  [-1.1395,6.5],[-1.137,8.7],[-1.1345,12.6],[-1.132,5.6],[-1.1295,10.0],[-1.127,7.7],[-1.1245,4.5],[-1.1225,14.5],[-1.1205,9.1],[-1.1355,3.6],
  [-1.1195,8.0],[-1.117,11.3],[-1.1145,6.0],[-1.112,9.5],[-1.1095,4.8],[-1.107,13.1],[-1.1045,7.1],[-1.1025,5.5],[-1.1005,16.8],[-1.1155,10.5],
  [-1.0995,7.3],[-1.097,10.2],[-1.0945,5.3],[-1.092,8.8],[-1.0895,12.4],[-1.087,6.3],[-1.0845,4.3],[-1.0825,9.6],[-1.0805,14.2],[-1.0955,11.5],
  [-1.0795,9.4],[-1.077,6.6],[-1.0745,11.2],[-1.072,7.5],[-1.0695,5.1],[-1.067,13.6],[-1.0645,8.3],[-1.0625,4.0],[-1.0605,18.0],[-1.0755,10.0],
  [-1.0595,6.8],[-1.057,9.7],[-1.0545,12.8],[-1.052,5.6],[-1.0495,8.1],[-1.047,10.6],[-1.0445,4.6],[-1.0425,7.4],[-1.0405,15.0],[-1.0555,6.1],
  [-1.0395,8.6],[-1.037,5.4],[-1.0345,10.5],[-1.032,7.0],[-1.0295,13.4],[-1.027,6.1],[-1.0245,9.3],[-1.0225,4.3],[-1.0205,11.8],[-1.0355,21.5],
  [-1.0195,7.0],[-1.017,10.0],[-1.0145,5.7],[-1.012,8.7],[-1.0095,12.1],[-1.007,6.6],[-1.0045,4.0],[-1.0025,9.4],[-1.0005,16.3],[-1.0155,11.2],
  [-0.9995,9.5],[-0.997,6.2],[-0.9945,11.5],[-0.992,7.7],[-0.9895,4.7],[-0.987,13.3],[-0.9845,8.4],[-0.9825,5.3],[-0.9805,10.4],[-0.9955,18.8],
  [-0.9795,6.6],[-0.977,9.2],[-0.9745,12.4],[-0.972,5.4],[-0.9695,8.0],[-0.967,10.8],[-0.9645,7.1],[-0.9625,4.2],[-0.9605,14.8],[-0.9755,3.6],
  [-0.9595,8.3],[-0.957,5.6],[-0.9545,10.9],[-0.952,7.0],[-0.9495,13.0],[-0.947,6.0],[-0.9445,9.4],[-0.9425,4.6],[-0.9405,11.8],[-0.9555,17.5],
  [-0.9395,7.5],[-0.937,10.6],[-0.9345,5.1],[-0.932,8.9],[-0.9295,6.5],[-0.927,12.5],[-0.9245,4.1],[-0.9225,9.9],[-0.9205,15.5],[-0.9355,11.4],
  [-0.9195,9.0],[-0.917,6.1],[-0.9145,11.9],[-0.912,7.4],[-0.9095,5.0],[-0.907,13.6],[-0.9045,8.3],[-0.9025,4.5],[-0.9005,10.5],[-0.9155,20.0],
  [-0.8995,6.9],[-0.897,9.6],[-0.8945,12.9],[-0.892,5.6],[-0.8895,8.4],[-0.887,10.9],[-0.8845,7.0],[-0.8825,4.3],[-0.8805,15.9],[-0.8955,3.9],
  [-0.8795,8.2],[-0.877,5.8],[-0.8745,10.6],[-0.872,7.2],[-0.8695,13.1],[-0.867,6.3],[-0.8645,9.2],[-0.8625,4.7],[-0.8605,11.7],[-0.8755,18.1],
  [-0.8595,7.6],[-0.857,10.3],[-0.8545,5.3],[-0.852,9.0],[-0.8495,6.6],[-0.847,12.0],[-0.8445,4.2],[-0.8425,8.5],[-0.8405,16.1],[-0.8555,11.0],
  [-0.8395,9.1],[-0.837,6.5],[-0.8345,11.4],[-0.832,7.6],[-0.8295,4.9],[-0.827,13.9],[-0.8245,8.1],[-0.8225,5.6],[-0.8205,10.2],[-0.8355,22.0],
  [-0.8195,6.7],[-0.817,9.3],[-0.8145,12.6],[-0.812,5.2],[-0.8095,8.8],[-0.807,10.6],[-0.8045,7.3],[-0.8025,4.5],[-0.8005,14.7],[-0.8155,3.4],
  [-0.7995,8.4],[-0.797,5.5],[-0.7945,10.8],[-0.792,7.1],[-0.7895,12.9],[-0.787,6.0],[-0.7845,9.6],[-0.7825,4.3],[-0.7805,11.6],[-0.7955,17.0],
  [-0.7795,7.2],[-0.777,10.4],[-0.7745,5.9],[-0.772,8.6],[-0.7695,6.4],[-0.767,13.3],[-0.7645,4.8],[-0.7625,9.2],[-0.7605,15.8],[-0.7755,11.3],
  [-0.7595,9.3],[-0.757,6.3],[-0.7545,11.6],[-0.752,7.8],[-0.7495,5.2],[-0.747,12.7],[-0.7445,8.5],[-0.7425,4.4],[-0.7405,10.1],[-0.7555,19.7],
  [-0.7395,6.4],[-0.737,9.0],[-0.7345,12.3],[-0.732,5.6],[-0.7295,8.2],[-0.727,10.5],[-0.7245,7.1],[-0.7225,4.0],[-0.7205,14.4],[-0.7355,3.8],
  [-0.7195,8.1],[-0.717,5.9],[-0.7145,10.6],[-0.712,7.3],[-0.7095,13.6],[-0.707,6.2],[-0.7045,9.4],[-0.7025,4.6],[-0.7005,11.9],[-0.7155,17.4],
  [-0.6995,7.7],[-0.697,10.9],[-0.6945,5.3],[-0.692,8.9],[-0.6895,6.8],[-0.687,12.3],[-0.6845,4.3],[-0.6825,9.8],[-0.6805,16.5],[-0.6955,11.1],
  [-0.6795,9.0],[-0.677,6.5],[-0.6745,11.8],[-0.672,7.4],[-0.6695,5.0],[-0.667,13.2],[-0.6645,8.2],[-0.6625,5.7],[-0.6605,10.4],[-0.6755,21.2],
  [-0.6595,6.9],[-0.657,9.5],[-0.6545,12.7],[-0.652,5.4],[-0.6495,8.6],[-0.647,10.8],[-0.6445,7.2],[-0.6425,4.4],[-0.6405,15.2],[-0.6555,3.5],
  [-0.6395,8.5],[-0.637,5.7],[-0.6345,11.0],[-0.632,7.0],[-0.6295,13.5],[-0.627,6.4],[-0.6245,9.3],[-0.6225,4.5],[-0.6205,12.0],[-0.6355,18.3],
  [-0.6195,7.3],[-0.617,10.2],[-0.6145,5.5],[-0.612,8.8],[-0.6095,6.1],[-0.607,12.6],[-0.6045,4.2],[-0.6025,9.7],[-0.6005,16.0],[-0.6155,11.4],
  [-0.5995,9.4],[-0.597,6.7],[-0.5945,11.3],[-0.592,7.7],[-0.5895,5.2],[-0.587,13.8],[-0.5845,8.4],[-0.5825,4.7],[-0.5805,10.3],[-0.5955,20.8],
  [-0.5795,6.6],[-0.577,9.1],[-0.5745,12.5],[-0.572,5.5],[-0.5695,8.0],[-0.567,10.7],[-0.5645,7.3],[-0.5625,4.1],[-0.5605,14.6],[-0.5755,3.7],
  [-0.5595,8.3],[-0.557,5.8],[-0.5545,10.9],[-0.552,7.2],[-0.5495,13.3],[-0.547,6.1],[-0.5445,9.5],[-0.5425,4.6],[-0.5405,11.8],[-0.5555,17.6],
  [-0.5395,7.5],[-0.537,10.6],[-0.5345,5.4],[-0.532,9.0],[-0.5295,6.5],[-0.527,12.4],[-0.5245,4.4],[-0.5225,8.7],[-0.5205,15.7],[-0.5355,11.2],
  [-0.5195,9.1],[-0.517,6.3],[-0.5145,11.7],[-0.512,7.6],[-0.5095,5.0],[-0.507,13.5],[-0.5045,8.3],[-0.5025,5.6],[-0.5005,10.6],[-0.5155,19.9],
  [-0.4995,6.8],[-0.497,9.4],[-0.4945,12.8],[-0.492,5.7],[-0.4895,8.4],[-0.487,10.9],[-0.4845,7.0],[-0.4825,4.2],[-0.4805,15.1],[-0.4955,3.6],
  [-0.4795,8.6],[-0.477,5.9],[-0.4745,11.2],[-0.472,7.3],[-0.4695,13.7],[-0.467,6.6],[-0.4645,9.6],[-0.4625,4.8],[-0.4605,12.1],[-0.4755,18.6],
  [-0.4595,7.4],[-0.457,10.4],[-0.4545,5.6],[-0.452,9.1],[-0.4495,6.3],[-0.447,12.9],[-0.4445,4.5],[-0.4425,8.9],[-0.4405,16.7],[-0.4555,11.6],
  [-0.4395,9.5],[-0.437,6.6],[-0.4345,11.9],[-0.432,7.9],[-0.4295,5.3],[-0.427,14.0],[-0.4245,8.6],[-0.4225,4.9],[-0.4205,10.8],[-0.4355,21.8],
  [-0.4195,7.0],[-0.417,9.7],[-0.4145,13.0],[-0.412,5.9],[-0.4095,8.7],[-0.407,11.2],[-0.4045,7.4],[-0.4025,4.6],[-0.4005,15.9],[-0.4155,3.9],
  [-0.3995,8.9],[-0.397,6.1],[-0.3945,11.6],[-0.392,7.6],[-0.3895,14.2],[-0.387,6.8],[-0.3845,10.0],[-0.3825,5.0],[-0.3805,12.6],[-0.3955,19.5],
  [-0.3795,7.9],[-0.377,11.0],[-0.3745,5.9],[-0.372,9.5],[-0.3695,6.9],[-0.367,13.3],[-0.3645,4.8],[-0.3625,9.1],[-0.3605,17.4],[-0.3755,12.2],
  [-0.3595,9.8],[-0.357,6.9],[-0.3545,12.5],[-0.352,8.3],[-0.3495,5.5],[-0.347,14.9],[-0.3445,9.0],[-0.3425,5.9],[-0.3405,11.2],[-0.3555,23.0],
  [-0.3395,7.8],[-0.337,10.6],[-0.3345,14.2],[-0.332,6.4],[-0.3295,9.4],[-0.327,12.1],[-0.3245,8.1],[-0.3225,5.0],[-0.3205,17.6],[-0.3355,4.4],
  [-0.3195,10.2],[-0.317,7.3],[-0.3145,13.2],[-0.312,8.9],[-0.3095,16.6],[-0.307,7.8],[-0.3045,11.3],[-0.3025,5.9],[-0.3005,14.5],[-0.3155,21.5]
];

const SCATTER_LOW_OUTLIERS: number[][] = [
  [-1.431,0.82],[-1.429,0.54],[-1.447,1.7],[-1.43,2.2],[-1.371,0.93],[-1.382,1.9],[-1.324,1.8],[-1.263,1.9],[-1.2,1.15],[-1.203,1.0],[-1.101,0.79],[-1.027,1.03],[-1.004,1.2],[-0.861,0.91],[-0.822,1.07],[-0.762,0.7],[-0.676,1.42],[-0.632,0.7],[-0.585,0.95],[-0.563,1.5],[-0.481,1.25],[-0.486,1.4],[-0.456,1.15],[-0.428,1.45],[-0.392,0.93],[-0.355,1.2],[-0.297,2.7],[-1.192,1.0],[-1.101,2.3]
];

const SCATTER_RISE_A: number[][] = [
  [-0.299,11.5],[-0.296,7.3],[-0.293,16.0],[-0.29,9.2],[-0.287,5.6],[-0.284,13.2],[-0.281,20.5],[-0.298,8.3],[-0.294,12.4],[-0.289,4.2],[-0.285,27.0],[-0.282,10.0],
  [-0.279,14.0],[-0.276,9.1],[-0.273,19.8],[-0.27,12.0],[-0.267,7.2],[-0.264,16.5],[-0.261,25.5],[-0.278,10.6],[-0.274,35.0],[-0.269,5.8],[-0.265,13.3],[-0.262,11.2],
  [-0.259,17.8],[-0.256,11.5],[-0.253,24.0],[-0.25,14.6],[-0.247,9.0],[-0.244,20.2],[-0.241,31.0],[-0.258,13.0],[-0.254,6.6],[-0.249,16.4],[-0.245,38.0],[-0.242,19.0],
  [-0.239,21.0],[-0.236,14.8],[-0.233,30.5],[-0.23,18.2],[-0.227,26.0],[-0.224,11.5],[-0.221,40.0],[-0.238,24.5],[-0.234,16.6],[-0.229,9.5],[-0.225,22.8],[-0.222,33.0],[-0.226,7.4],[-0.215,12.5],
  [-0.219,30.0],[-0.216,20.5],[-0.213,40.5],[-0.21,25.0],[-0.207,35.5],[-0.204,16.5],[-0.201,48.0],[-0.218,27.5],[-0.214,22.0],[-0.209,32.0],
  [-0.199,40.0],[-0.196,30.0],[-0.193,55.0],[-0.19,36.0],[-0.187,47.0],[-0.184,24.0],[-0.181,63.0],[-0.198,44.0],[-0.194,33.0],[-0.189,51.0],
  [-0.179,57.0],[-0.176,46.0],[-0.173,72.0],[-0.17,52.0],[-0.167,66.0],[-0.164,40.0],[-0.161,81.0],[-0.178,61.0],[-0.174,49.0],[-0.169,70.0],
  [-0.159,83.0],[-0.156,66.0],[-0.153,102.0],[-0.15,76.0],[-0.147,94.0],[-0.144,60.0],[-0.141,115.0],[-0.158,88.0],[-0.154,71.0],[-0.149,98.0],
  [-0.139,112.0],[-0.136,90.0],[-0.133,140.0],[-0.13,104.0],[-0.127,128.0],[-0.124,82.0],[-0.121,155.0],[-0.138,118.0],[-0.134,96.0],[-0.129,132.0],
  [-0.119,158.0],[-0.116,130.0],[-0.113,186.0],[-0.11,148.0],[-0.107,175.0],[-0.104,120.0],[-0.101,205.0],[-0.118,166.0],[-0.114,139.0],
  [-0.099,212.0],[-0.096,180.0],[-0.093,245.0],[-0.09,198.0],[-0.087,232.0],[-0.084,168.0],[-0.081,262.0],[-0.098,220.0],[-0.094,190.0],
  [-0.079,262.0],[-0.076,220.0],[-0.073,305.0],[-0.07,245.0],[-0.067,285.0],[-0.064,205.0],[-0.061,330.0],[-0.078,272.0],[-0.074,236.0],
  [-0.059,322.0],[-0.056,275.0],[-0.053,372.0],[-0.05,300.0],[-0.047,350.0],[-0.044,262.0],[-0.041,395.0],[-0.058,335.0],[-0.054,290.0],
  [-0.039,398.0],[-0.036,350.0],[-0.033,450.0],[-0.03,380.0],[-0.027,425.0],[-0.024,335.0],[-0.021,470.0],[-0.038,410.0],[-0.034,365.0],
  [-0.019,478.0],[-0.016,428.0],[-0.013,530.0],[-0.01,455.0],[-0.007,505.0],[-0.004,410.0],[-0.001,555.0],[-0.018,492.0],[-0.014,440.0],
  [0.001,572.0],[0.004,520.0],[0.007,625.0],[0.01,550.0],[0.013,600.0],[0.016,500.0],[0.019,650.0],[0.002,585.0],[0.006,535.0],
  [0.021,652.0],[0.024,598.0],[0.027,712.0],[0.03,630.0],[0.033,680.0],[0.036,580.0],[0.039,735.0],[0.022,665.0],[0.026,615.0],
  [0.041,742.0],[0.044,690.0],[0.047,800.0],[0.05,720.0],[0.053,770.0],[0.056,668.0],[0.059,825.0],[0.042,755.0],[0.046,705.0],
  [0.061,838.0],[0.064,782.0],[0.067,895.0],[0.07,815.0],[0.073,865.0],[0.076,762.0],[0.079,920.0],[0.062,850.0],[0.066,800.0],
  [0.081,935.0],[0.084,880.0],[0.087,998.0],[0.09,912.0],[0.093,965.0],[0.096,860.0],[0.099,1025.0],[0.082,950.0],[0.086,895.0],
  [0.101,1030.0],[0.104,972.0],[0.107,1090.0],[0.11,1005.0],[0.113,1060.0],[0.116,950.0],[0.119,1115.0],[0.102,1045.0],[0.106,990.0],
  [0.121,1120.0],[0.124,1062.0],[0.127,1180.0],[0.13,1095.0],[0.133,1150.0],[0.136,1040.0],[0.139,1205.0],[0.122,1135.0],[0.126,1080.0],
  [0.141,1208.0],[0.144,1150.0],[0.147,1270.0],[0.15,1185.0],[0.153,1240.0],[0.156,1128.0],[0.159,1295.0],[0.142,1222.0],[0.146,1168.0],
  [0.161,1282.0],[0.164,1222.0],[0.167,1345.0],[0.17,1258.0],[0.173,1315.0],[0.176,1200.0],[0.179,1370.0],[0.162,1296.0],[0.166,1240.0],
  [0.181,1350.0],[0.184,1292.0],[0.187,1415.0],[0.19,1330.0],[0.193,1385.0],[0.196,1268.0],[0.199,1440.0],[0.182,1365.0],[0.186,1310.0],
  [0.201,1420.0],[0.204,1360.0],[0.207,1485.0],[0.21,1398.0],[0.213,1455.0],[0.216,1338.0],[0.219,1512.0],[0.202,1435.0],[0.206,1378.0],
  [0.221,1485.0],[0.224,1425.0],[0.227,1555.0],[0.23,1462.0],[0.233,1520.0],[0.236,1400.0],[0.239,1580.0],[0.222,1500.0],[0.226,1442.0],
  [0.241,1540.0],[0.244,1478.0],[0.247,1610.0],[0.25,1515.0],[0.253,1575.0],[0.256,1452.0],[0.259,1640.0],[0.242,1556.0],[0.246,1495.0],[0.26,1700.0],[0.258,1400.0]
];

const SCATTER_RISE_B: number[][] = [
  [-0.2985,13.0],[-0.295,8.8],[-0.2915,18.6],[-0.288,10.7],[-0.2845,6.6],[-0.281,15.0],[-0.2965,23.5],[-0.2865,12.1],
  [-0.2785,16.0],[-0.275,10.2],[-0.2715,22.0],[-0.268,13.9],[-0.2645,8.4],[-0.261,18.9],[-0.2765,28.5],[-0.2665,12.6],
  [-0.2585,20.0],[-0.255,13.5],[-0.2515,27.0],[-0.248,16.2],[-0.2445,10.5],[-0.241,22.5],[-0.2565,34.0],[-0.2465,18.5],
  [-0.2385,25.5],[-0.235,17.5],[-0.2315,35.0],[-0.228,20.5],[-0.2245,14.0],[-0.221,28.0],[-0.2365,44.0],[-0.2265,23.5],
  [-0.2185,34.0],[-0.215,24.0],[-0.2115,44.0],[-0.208,28.5],[-0.2045,19.0],[-0.2015,38.0],
  [-0.1985,46.0],[-0.195,34.5],[-0.1915,60.0],[-0.188,42.0],[-0.1845,28.0],[-0.1815,52.0],
  [-0.1785,64.0],[-0.175,53.0],[-0.1715,78.0],[-0.168,60.0],[-0.1645,45.0],[-0.1615,72.0],
  [-0.1585,92.0],[-0.155,74.0],[-0.1515,108.0],[-0.148,86.0],[-0.1445,67.0],[-0.1415,100.0],
  [-0.1385,124.0],[-0.135,100.0],[-0.1315,150.0],[-0.128,116.0],[-0.1245,92.0],[-0.1215,138.0],
  [-0.1185,172.0],[-0.115,145.0],[-0.1115,198.0],[-0.108,160.0],[-0.1045,132.0],
  [-0.0985,228.0],[-0.095,195.0],[-0.0915,255.0],[-0.088,210.0],[-0.0845,182.0],
  [-0.0785,285.0],[-0.075,240.0],[-0.0715,315.0],[-0.068,258.0],[-0.0645,225.0],
  [-0.0585,345.0],[-0.055,292.0],[-0.0515,385.0],[-0.048,318.0],[-0.0445,280.0],
  [-0.0385,418.0],[-0.035,372.0],[-0.0315,462.0],[-0.028,392.0],[-0.0245,355.0],
  [-0.0185,500.0],[-0.015,448.0],[-0.0115,545.0],[-0.008,470.0],[-0.0045,430.0],
  [0.0015,595.0],[0.005,540.0],[0.0085,640.0],[0.012,565.0],[0.0155,520.0],
  [0.0215,675.0],[0.025,615.0],[0.0285,725.0],[0.032,645.0],[0.0355,600.0],
  [0.0415,765.0],[0.045,705.0],[0.0485,815.0],[0.052,735.0],[0.0555,690.0],
  [0.0615,860.0],[0.065,795.0],[0.0685,910.0],[0.072,830.0],[0.0755,785.0],
  [0.0815,958.0],[0.085,892.0],[0.0885,1010.0],[0.092,925.0],[0.0955,880.0],
  [0.1015,1050.0],[0.105,985.0],[0.1085,1100.0],[0.112,1020.0],[0.1155,975.0],
  [0.1215,1142.0],[0.125,1075.0],[0.1285,1190.0],[0.132,1110.0],[0.1355,1065.0],
  [0.1415,1230.0],[0.145,1160.0],[0.1485,1282.0],[0.152,1200.0],[0.1555,1150.0],
  [0.1615,1300.0],[0.165,1232.0],[0.1685,1358.0],[0.172,1272.0],[0.1755,1225.0],
  [0.1815,1372.0],[0.185,1302.0],[0.1885,1428.0],[0.192,1342.0],[0.1955,1295.0],
  [0.2015,1442.0],[0.205,1370.0],[0.2085,1498.0],[0.212,1410.0],[0.2155,1365.0],
  [0.2215,1508.0],[0.225,1435.0],[0.2285,1568.0],[0.232,1475.0],[0.2355,1428.0],
  [0.2415,1565.0],[0.245,1490.0],[0.2485,1625.0],[0.252,1530.0],[0.2555,1480.0]
];

const FONT = "'DejaVu Sans', 'Liberation Sans', sans-serif";
const ORANGE = '#ff8c00';
const RED = '#ff0000';
const GREEN = '#008000';

const fmtX = (v: number) => {
  const s = Math.abs(v).toFixed(2);
  return v < -1e-9 ? '\u2212' + s : s;
};

function zip(xs: number[], ys: number[]) {
  return xs.map((x, i) => [x, ys[i]]);
}

function outlinedLine(name: string, ys: number[], color: string) {
  const data = zip(BIN_X, ys);
  return [
    {
      name: name + '-outline', type: 'line', data, symbol: 'none', silent: true,
      lineStyle: { color: '#000', width: 12.5, join: 'miter', cap: 'butt' }, z: 3,
    },
    {
      name, type: 'line', data, symbol: 'none', silent: true,
      lineStyle: { color, width: 6.25, join: 'miter', cap: 'butt' }, z: 3,
    },
  ];
}

export default function App() {
  const ref = useRef<HTMLDivElement>(null);

  useEffect(() => {
    if (!ref.current) return;
    const chart = echarts.init(ref.current, undefined, { renderer: 'svg' });

    const axisCommon = {
      axisLine: { show: false, onZero: false },
      splitLine: { show: false },
    };

    const option: any = {
      animation: false,
      backgroundColor: '#ffffff',
      grid: {
        left: 376, top: 360, width: 2324, height: 2264,
        show: true, borderColor: '#000', borderWidth: 3.3, backgroundColor: 'transparent',
        containLabel: false, outerBoundsMode: 'none',
      },
      xAxis: [
        {
          type: 'value', min: X_MIN, max: X_MAX, position: 'bottom', ...axisCommon,
          axisTick: { show: true, inside: false, customValues: X_MAJOR, length: 33, lineStyle: { color: '#000', width: 12 } },
          axisLabel: {
            show: true, customValues: X_MAJOR, formatter: fmtX, margin: 46,
            fontSize: 61, fontFamily: FONT, color: '#000', lineHeight: 61,
          },
        },
        {
          type: 'value', min: X_MIN, max: X_MAX, position: 'bottom', ...axisCommon,
          axisTick: { show: true, inside: false, customValues: X_MINOR, length: 20, lineStyle: { color: '#000', width: 6.5 } },
          axisLabel: { show: false },
        },
      ],
      yAxis: [
        {
          type: 'log', logBase: 10, min: Y_MIN, max: Y_MAX, position: 'left', ...axisCommon,
          axisTick: { show: true, inside: false, customValues: Y_MAJOR, length: 33, lineStyle: { color: '#000', width: 12 } },
          axisLabel: {
            show: true, customValues: Y_MAJOR, margin: 48, color: '#000',
            formatter: (v: number) => `{b|10}{s|${Math.round(Math.log10(v))}}`,
            rich: {
              b: { fontSize: 61, fontFamily: FONT, lineHeight: 68, verticalAlign: 'bottom', color: '#000' },
              s: { fontSize: 43, fontFamily: FONT, lineHeight: 20, verticalAlign: 'top', color: '#000' },
            },
          },
        },
        {
          type: 'log', logBase: 10, min: Y_MIN, max: Y_MAX, position: 'left', ...axisCommon,
          axisTick: { show: true, inside: false, customValues: Y_MINOR, length: 20, lineStyle: { color: '#000', width: 6.5 } },
          axisLabel: { show: false },
        },
      ],
      graphic: [
        {
          type: 'text', x: 1538, y: 247, silent: true,
          style: {
            text: '{zi|Z}{sub|\u2299}{n|, }{zi|S/N}{n|\u2005=\u200520}',
            align: 'center', verticalAlign: 'top', fill: '#000',
            rich: {
              zi: { fontSize: 104, fontFamily: FONT, fontStyle: 'italic', lineHeight: 104, verticalAlign: 'top', fill: '#000' },
              n: { fontSize: 104, fontFamily: FONT, lineHeight: 104, verticalAlign: 'top', fill: '#000' },
              sub: { fontSize: 73, fontFamily: FONT, lineHeight: 118, verticalAlign: 'bottom', fill: '#000' },
            },
          },
        },
        {
          type: 'text', x: 1538, y: 2745, silent: true,
          style: {
            text: '{i|log}{sub|10}{n|(\u0394}{i|age}{isub|n}{n|)}',
            align: 'center', verticalAlign: 'top', fill: '#000',
            rich: {
              i: { fontSize: 83, fontFamily: FONT, fontStyle: 'italic', lineHeight: 83, verticalAlign: 'top', fill: '#000' },
              n: { fontSize: 83, fontFamily: FONT, lineHeight: 83, verticalAlign: 'top', fill: '#000' },
              sub: { fontSize: 58, fontFamily: FONT, lineHeight: 94, verticalAlign: 'bottom', fill: '#000' },
              isub: { fontSize: 58, fontFamily: FONT, fontStyle: 'italic', lineHeight: 94, verticalAlign: 'bottom', fill: '#000' },
            },
          },
        },
        {
          type: 'text', x: 103, y: 1492, rotation: Math.PI / 2, silent: true,
          style: {
            text: '{d|\u03b4}{s|2}',
            align: 'center', verticalAlign: 'top', fill: '#000',
            rich: {
              d: { fontSize: 83, fontFamily: FONT, fontStyle: 'italic', lineHeight: 95, verticalAlign: 'bottom', fill: '#000' },
              s: { fontSize: 58, fontFamily: FONT, lineHeight: 20, verticalAlign: 'top', fill: '#000' },
            },
          },
        },
      ],
      series: [
        {
          name: 'models', type: 'scatter', xAxisIndex: 0, yAxisIndex: 0,
          data: [...SCATTER_FLAT_A, ...SCATTER_FLAT_B, ...SCATTER_FLAT_C, ...SCATTER_LOW_OUTLIERS, ...SCATTER_RISE_A, ...SCATTER_RISE_B],
          symbol: 'circle', symbolSize: 8, silent: true, progressive: 0, large: false, largeThreshold: 100000,
          itemStyle: { color: 'rgba(31,119,180,0.72)' }, z: 1,
        },
        {
          name: 'upper reference', type: 'line', symbol: 'none', silent: true, z: 2,
          data: [[REF_X_START, UPPER_REF], [REF_X_END, UPPER_REF]],
          lineStyle: { color: ORANGE, width: 12, type: [124.7, 38], dashOffset: 62.2, cap: 'butt' },
        },
        {
          name: 'median reference', type: 'line', symbol: 'none', silent: true, z: 2,
          data: [[REF_X_START, MEDIAN_REF], [REF_X_END, MEDIAN_REF]],
          lineStyle: { color: RED, width: 12, type: [124.7, 38], dashOffset: 62.2, cap: 'butt' },
        },
        ...outlinedLine('median', MEDIAN, RED),
        ...outlinedLine('upper', P_UPPER, ORANGE),
        ...outlinedLine('lower', P_LOWER, ORANGE),
        {
          name: 'threshold', type: 'line', symbol: 'none', silent: true, z: 4,
          data: [[THRESHOLD_X, Y_MIN], [THRESHOLD_X, Y_MAX]],
          lineStyle: { color: GREEN, width: 11.7, cap: 'butt' },
        },
        {
          name: 'crossing', type: 'scatter', silent: true, z: 5,
          data: [[THRESHOLD_X, UPPER_REF]], symbol: 'circle', symbolSize: 33,
          itemStyle: { color: GREEN },
        },
      ],
    };

    chart.setOption(option);
    return () => chart.dispose();
  }, []);

  return (
    <div
      ref={ref}
      style={{ position: 'absolute', left: 0, top: 0, width: 3000, height: 3000, background: '#fff' }}
    />
  );
}
